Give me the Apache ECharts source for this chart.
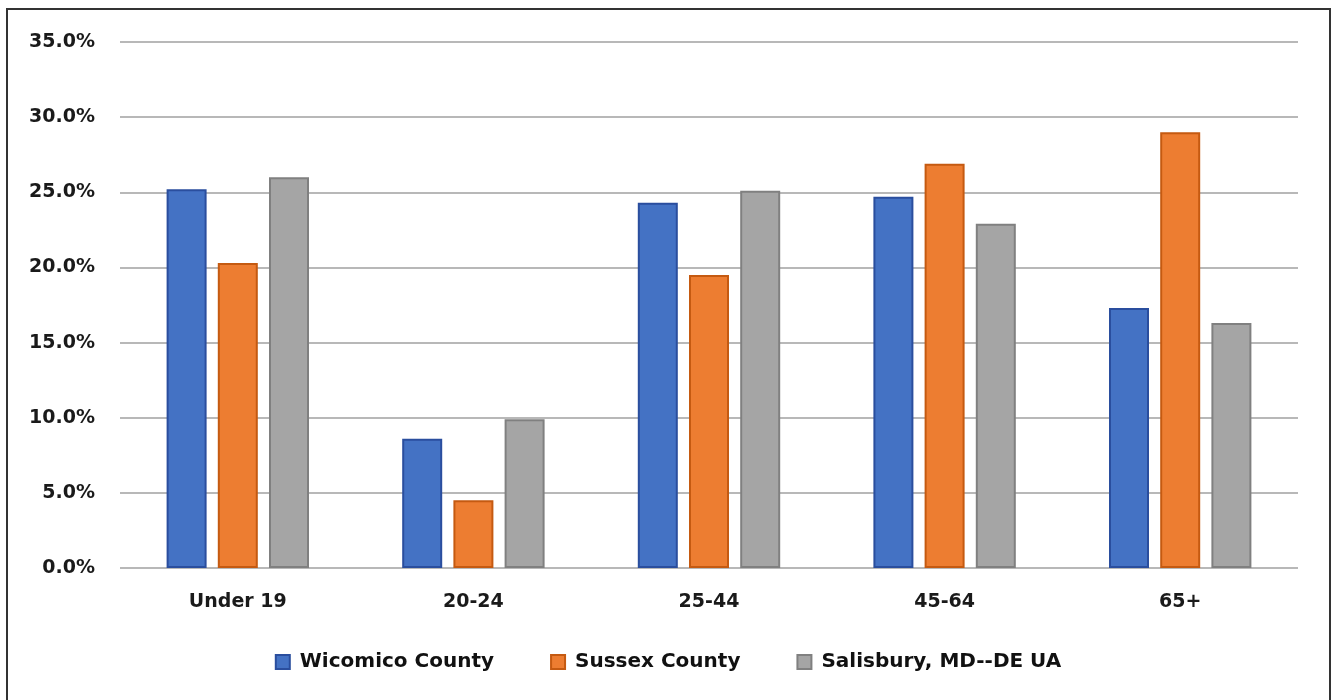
<!DOCTYPE html>
<html>
<head>
<meta charset="utf-8">
<script src="https://cdn.jsdelivr.net/npm/echarts@6/dist/echarts.min.js"></script>
<style>
  html, body { margin: 0; padding: 0; background: #fff; }
  #chart { width: 1336px; height: 700px; }
</style>
</head>
<body>
<div id="chart"></div>
<script>
  var categories = ['Under 19', '20-24', '25-44', '45-64', '65+'];
  var seriesNames = ['Wicomico County', 'Sussex County', 'Salisbury, MD--DE UA'];
  var wicomico = [25.2, 8.6, 24.3, 24.7, 17.3];
  var sussex = [20.3, 4.5, 19.5, 26.9, 29.0];
  var salisbury = [26.0, 9.9, 25.1, 22.9, 16.3];

  var fills = ['#4472C4', '#ED7D31', '#A5A5A5'];
  var edges = ['#2A4E9E', '#C55A11', '#808080'];
  var values = [wicomico, sussex, salisbury];

  var chart = echarts.init(document.getElementById('chart'));

  var option = {
    animation: false,
    backgroundColor: '#fff',
    textStyle: { fontFamily: 'DejaVu Sans' },
    graphic: [{
      type: 'rect',
      shape: { x: 7, y: 9, width: 1323, height: 720 },
      style: { fill: 'none', stroke: '#333', lineWidth: 2 }
    }],
    grid: { left: 120, right: 38, top: 42, bottom: 132 },
    legend: {
      bottom: 23,
      left: 'center',
      itemWidth: 14,
      itemHeight: 14,
      itemGap: 56,
      icon: 'rect',
      data: seriesNames,
      textStyle: { fontSize: 20, fontWeight: 'bold', color: '#111', padding: [0, 0, 0, 5] }
    },
    xAxis: {
      type: 'category',
      data: categories,
      axisLine: { show: false },
      axisTick: { show: false },
      axisLabel: { fontSize: 19, fontWeight: 'bold', color: '#1a1a1a', margin: 25 }
    },
    yAxis: {
      type: 'value',
      min: 0,
      max: 35,
      interval: 5,
      axisLine: { show: false },
      axisTick: { show: false },
      splitLine: { lineStyle: { color: '#b8b8b8', width: 2 } },
      axisLabel: {
        fontSize: 19, fontWeight: 'bold', color: '#1a1a1a', margin: 25,
        formatter: function (v) { return v.toFixed(1) + '%'; }
      }
    },
    series: seriesNames.map(function (name, i) {
      return {
        name: name,
        type: 'bar',
        data: values[i],
        barWidth: 40,
        barGap: '28%',
        itemStyle: { color: fills[i], borderColor: edges[i], borderWidth: 2 }
      };
    })
  };

  chart.setOption(option);
</script>
</body>
</html>
